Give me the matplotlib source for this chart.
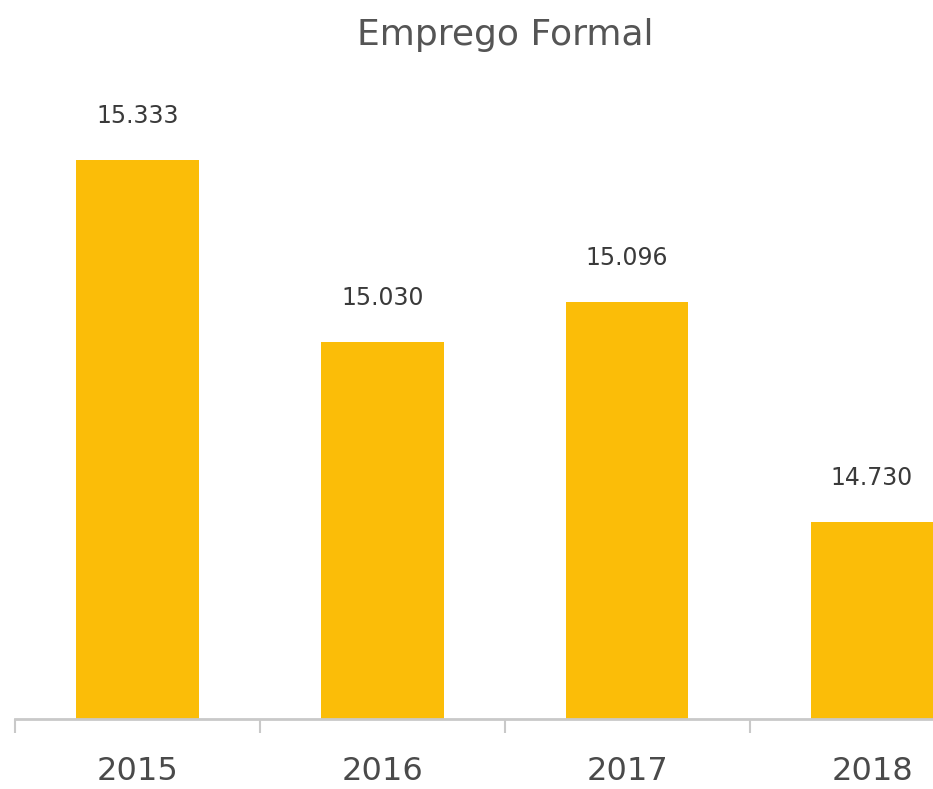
import matplotlib
matplotlib.use('Agg')
import matplotlib.pyplot as plt

years = ['2015', '2016', '2017', '2018']
values = [15333, 15030, 15096, 14730]
labels = ['15.333', '15.030', '15.096', '14.730']

bar_color = '#FBBD08'
axis_color = '#C9C9C9'

fig = plt.figure(figsize=(9.33, 7.89), dpi=100)
ax = fig.add_axes([15 / 933, 70 / 789, 918 / 933, 719 / 789])

x = list(range(len(years)))
ax.bar(x, values, width=0.5, color=bar_color, bottom=0)

ax.set_xlim(-0.5, 3.249)
ax.set_ylim(14402, 15600)

for xi, v, lab in zip(x, values, labels):
    ax.annotate(lab, (xi, v), xytext=(0, 32), textcoords='offset points',
                ha='center', va='center', fontsize=17, color='#3a3a3a')

# category boundary ticks hanging below the axis line
for s in ['top', 'right', 'left']:
    ax.spines[s].set_visible(False)
ax.spines['bottom'].set_color(axis_color)
ax.spines['bottom'].set_linewidth(2)
ax.set_yticks([])
ax.set_xticks([-0.5, 0.5, 1.5, 2.5])
ax.set_xticklabels([])
ax.tick_params(axis='x', length=10, width=1.5, color=axis_color, direction='out')

for xi, yr in zip(x, years):
    ax.annotate(yr, (xi, 0), xycoords=('data', 'axes fraction'), xytext=(0, -38),
                textcoords='offset points', ha='center', va='center',
                fontsize=23, color='#4a4a4a')

fig.text(505 / 933, 1 - 35 / 789, 'Emprego Formal', ha='center', va='center',
         fontsize=26, color='#555555')

fig.savefig('out.png', dpi=100)
